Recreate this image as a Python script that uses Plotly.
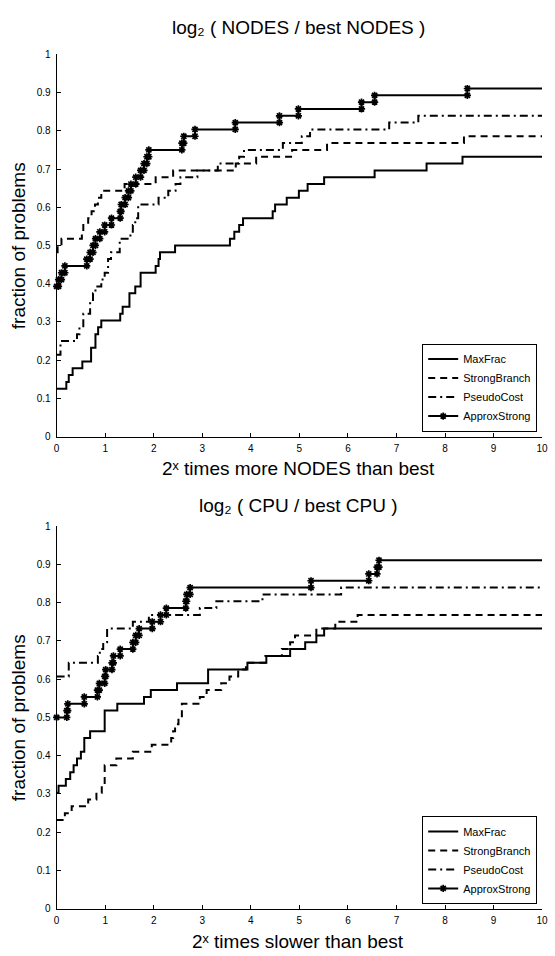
import plotly.graph_objects as go

N_PROBLEMS = 56
SOLVERS = ["MaxFrac", "StrongBranch", "PseudoCost", "ApproxStrong"]
X_TICKS = list(range(0, 11))
Y_TICKS = [0, 0.1, 0.2, 0.3, 0.4, 0.5, 0.6, 0.7, 0.8, 0.9, 1]

PANEL_TITLES = ["log\u2082 ( NODES / best NODES )", "log\u2082 ( CPU / best CPU )"]
X_TITLES = ["2\u02e3 times more NODES than best", "2\u02e3 times slower than best"]
Y_TITLE = "fraction of problems"

# ---- NODES panel: step positions (log2 ratio) and number of problems solved ----
nodes_maxfrac_x = [0, 0.2, 0.25, 0.33, 0.53, 0.71, 0.80, 0.855, 0.92, 1.31, 1.36, 1.50, 1.62, 1.73,
                   2.04, 2.10, 2.13, 2.44, 3.57, 3.66, 3.76, 3.84, 4.45, 4.50, 4.74, 4.99, 5.17, 5.51,
                   6.55, 7.62, 8.36]
nodes_maxfrac_n = [7, 8, 9, 10, 11, 13, 15, 16, 17, 18, 19, 21, 22, 24,
                   25, 26, 27, 28, 29, 30, 31, 32, 33, 34, 35, 36, 37, 38,
                   39, 40, 41]

nodes_strong_x = [0, 0.02, 0.1, 0.52, 0.55, 0.65, 0.72, 0.79, 0.85, 0.92, 1.40, 2.04, 2.40, 3.69,
                  4.11, 4.85, 5.57, 8.39]
nodes_strong_n = [27, 28, 29, 30, 31, 32, 33, 34, 35, 36, 37, 38, 39, 40,
                  41, 42, 43, 44]

nodes_pseudo_x = [0, 0.08, 0.42, 0.47, 0.55, 0.69, 0.75, 0.80, 0.92, 0.99, 1.06, 1.12, 1.30, 1.52,
                  1.57, 1.62, 1.68, 2.10, 2.30, 2.45, 2.55, 2.90, 3.32, 3.76, 3.86, 4.66, 5.05, 5.22,
                  6.85, 7.45]
nodes_pseudo_n = [12, 14, 15, 16, 18, 20, 21, 22, 23, 24, 26, 27, 29, 30,
                  31, 32, 34, 35, 36, 37, 38, 39, 40, 41, 42, 43, 44, 45,
                  46, 47]

nodes_approx_x = [0, 0.04, 0.10, 0.17, 0.62, 0.69, 0.75, 0.80, 0.89, 0.99, 1.13, 1.31, 1.33, 1.41,
                  1.48, 1.53, 1.63, 1.73, 1.80, 1.86, 1.90, 2.58, 2.62, 2.85, 3.68, 4.59, 4.98, 6.28,
                  6.55, 8.46]
nodes_approx_n = [22, 23, 24, 25, 26, 27, 28, 29, 30, 31, 32, 33, 34, 35,
                  36, 37, 38, 39, 40, 41, 42, 43, 44, 45, 46, 47, 48, 49,
                  50, 51]

# ---- CPU panel ----
cpu_maxfrac_x = [0, 0.04, 0.19, 0.28, 0.35, 0.42, 0.50, 0.57, 0.69, 0.99, 1.25, 1.80, 1.94, 2.48,
                 3.12, 3.93, 4.32, 4.81, 5.12, 5.35, 5.51]
cpu_maxfrac_n = [17, 18, 19, 20, 21, 22, 23, 25, 26, 29, 30, 31, 32, 33,
                 35, 36, 37, 38, 39, 40, 41]

cpu_strong_x = [0, 0.17, 0.31, 0.65, 0.82, 0.93, 0.99, 1.23, 1.57, 1.96, 2.36, 2.40, 2.44, 2.51,
                2.58, 2.95, 3.09, 3.39, 3.56, 3.74, 3.90, 4.30, 4.64, 4.81, 4.91, 5.35, 5.74, 6.20]
cpu_strong_n = [13, 14, 15, 16, 17, 18, 21, 22, 23, 24, 25, 26, 27, 28,
                30, 31, 32, 33, 34, 35, 36, 37, 38, 39, 40, 41, 42, 43]

cpu_pseudo_x = [0, 0.25, 0.85, 0.89, 0.96, 1.04, 1.57, 1.90, 2.95, 3.29, 4.24, 5.86]
cpu_pseudo_n = [34, 36, 37, 38, 39, 41, 42, 43, 44, 45, 46, 47]

cpu_approx_x = [0, 0.21, 0.23, 0.57, 0.84, 0.88, 0.99, 1.01, 1.14, 1.17, 1.31, 1.57, 1.63, 1.70,
                1.97, 2.14, 2.26, 2.66, 2.68, 2.75, 5.24, 6.43, 6.60, 6.64]
cpu_approx_n = [28, 29, 30, 31, 32, 33, 34, 35, 36, 37, 38, 39, 40, 41,
                42, 43, 44, 45, 46, 47, 48, 49, 50, 51]

PANELS = [
    {"MaxFrac": (nodes_maxfrac_x, nodes_maxfrac_n), "StrongBranch": (nodes_strong_x, nodes_strong_n),
     "PseudoCost": (nodes_pseudo_x, nodes_pseudo_n), "ApproxStrong": (nodes_approx_x, nodes_approx_n)},
    {"MaxFrac": (cpu_maxfrac_x, cpu_maxfrac_n), "StrongBranch": (cpu_strong_x, cpu_strong_n),
     "PseudoCost": (cpu_pseudo_x, cpu_pseudo_n), "ApproxStrong": (cpu_approx_x, cpu_approx_n)},
]

STYLE = {
    "MaxFrac": dict(dash="solid", marker=False),
    "StrongBranch": dict(dash="7px,5px", marker=False),
    "PseudoCost": dict(dash="8px,4px,2px,4px", marker=False),
    "ApproxStrong": dict(dash="solid", marker=True),
}

FONT = "Liberation Sans, Arial, Helvetica, DejaVu Sans, sans-serif"
W, H = 555, 956


def staircase(xs, ns):
    sx, sy = [], []
    for i, (x, n) in enumerate(zip(xs, ns)):
        if i > 0:
            sx.append(x)
            sy.append(ns[i - 1] / N_PROBLEMS)
        sx.append(x)
        sy.append(n / N_PROBLEMS)
    return sx, sy


fig = go.Figure()
X_MAX = X_TICKS[-1]
for p, panel in enumerate(PANELS):
    xa = "x" if p == 0 else "x2"
    ya = "y" if p == 0 else "y2"
    leg = "legend" if p == 0 else "legend2"
    for name in SOLVERS:
        xs, ns = panel[name]
        sx, sy = staircase(xs, ns)
        st = STYLE[name]
        line = dict(color="black", width=2, dash=st["dash"])
        if st["marker"]:
            fig.add_trace(go.Scatter(
                x=sx, y=sy, mode="lines+markers", name=name, line=line,
                marker=dict(symbol="asterisk-open", size=6, color="black",
                            line=dict(color="black", width=1.7)),
                xaxis=xa, yaxis=ya, legend=leg, cliponaxis=False))
            fig.add_trace(go.Scatter(
                x=[sx[-1], X_MAX], y=[sy[-1], sy[-1]], mode="lines", line=line,
                showlegend=False, xaxis=xa, yaxis=ya, hoverinfo="skip"))
        else:
            fig.add_trace(go.Scatter(
                x=sx + [X_MAX], y=sy + [sy[-1]], mode="lines", name=name, line=line,
                xaxis=xa, yaxis=ya, legend=leg))

xdom = [54.5 / W, 548 / W]
top_dom = [1 - 436 / H, 1 - 49 / H]
bot_dom = [1 - 914.3 / H, 1 - 526.7 / H]

axis_common = dict(showline=True, linecolor="black", linewidth=1, ticks="inside", ticklen=4,
                   tickwidth=1, tickcolor="black", showgrid=False, zeroline=False,
                   tickfont=dict(family=FONT, size=10, color="black"))
xcommon = dict(axis_common, range=[0, X_MAX], tickvals=X_TICKS, ticklabelstandoff=2, domain=xdom)
ycommon = dict(axis_common, range=[0, 1], tickvals=Y_TICKS, ticklabelstandoff=3)

legend_common = dict(x=543 / W, xanchor="right", bgcolor="white", bordercolor="black",
                     borderwidth=1, font=dict(family=FONT, size=11, color="black"),
                     tracegroupgap=0, itemwidth=30)

annotations = []
title_y = [1 - 22 / H, 1 - 505.5 / H]
xt_y = [1 - 468.8 / H, 1 - 947 / H]
yt_y = [1 - 242.5 / H, 1 - 720.5 / H]
for p in range(2):
    annotations.append(dict(text=PANEL_TITLES[p], x=300 / W, y=title_y[p], xref="paper", yref="paper",
                            xanchor="center", yanchor="middle", showarrow=False,
                            font=dict(family=FONT, size=19, color="black")))
    annotations.append(dict(text=X_TITLES[p], x=300 / W, y=xt_y[p], xref="paper", yref="paper",
                            xanchor="center", yanchor="middle", showarrow=False,
                            font=dict(family=FONT, size=19, color="black")))
    annotations.append(dict(text=Y_TITLE, x=16 / W, y=yt_y[p], xref="paper", yref="paper",
                            xanchor="center", yanchor="middle", showarrow=False, textangle=-90,
                            font=dict(family=FONT, size=19, color="black")))

fig.update_layout(
    width=W, height=H, autosize=False,
    margin=dict(l=0, r=0, t=0, b=0),
    paper_bgcolor="white", plot_bgcolor="white",
    xaxis=dict(xcommon, anchor="y"),
    yaxis=dict(ycommon, domain=top_dom, anchor="x"),
    xaxis2=dict(xcommon, anchor="y2"),
    yaxis2=dict(ycommon, domain=bot_dom, anchor="x2"),
    legend=dict(legend_common, y=1 - 431 / H, yanchor="bottom"),
    legend2=dict(legend_common, y=1 - 909.3 / H, yanchor="bottom"),
    annotations=annotations,
    showlegend=True,
)

fig.write_html("out.html")
